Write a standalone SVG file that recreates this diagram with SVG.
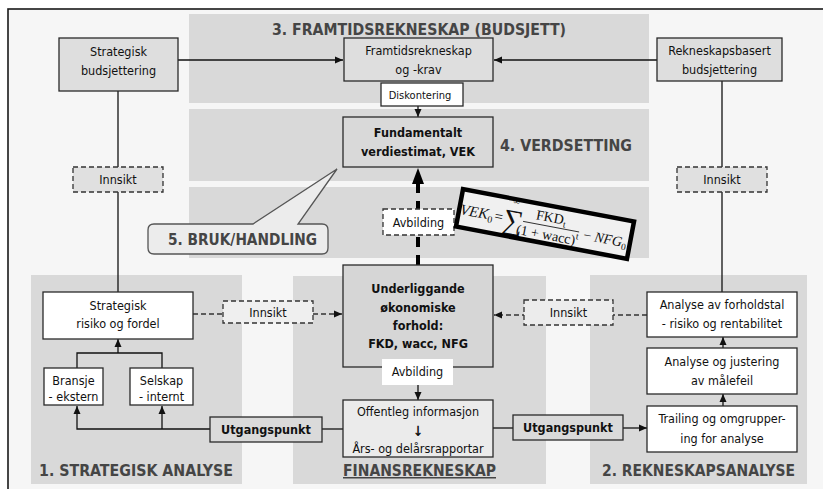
<svg xmlns="http://www.w3.org/2000/svg" width="823" height="489" viewBox="0 0 823 489">
<defs>
<style>
.bg{fill:#f6f6f6;stroke:#1a1a1a;stroke-width:1.6}
.panel{fill:#d9d9d9}
.box{stroke:#2a2a2a;stroke-width:1.3}
.w{fill:#ffffff}
.g{fill:#dedede}
.g2{fill:#d6d6d6}
.g3{fill:#ebebeb}
.dash{stroke:#333;stroke-width:1.3;stroke-dasharray:5 3}
.t{font-family:"DejaVu Sans Condensed","DejaVu Sans",sans-serif;font-stretch:condensed;font-size:12.5px;fill:#111;text-anchor:middle}
.tb{font-family:"DejaVu Sans Condensed","DejaVu Sans",sans-serif;font-stretch:condensed;font-size:12.5px;font-weight:bold;fill:#111;text-anchor:middle}
.ttl{font-family:"DejaVu Sans Condensed","DejaVu Sans",sans-serif;font-stretch:condensed;font-size:15px;font-weight:bold;fill:#454545}
.c{fill:none;stroke:#111;stroke-width:1.3}
.cd{fill:none;stroke:#333;stroke-width:1.3;stroke-dasharray:5 3}
.m{font-family:"Liberation Serif","Times New Roman",serif;fill:#111}
</style>
<marker id="ah" markerUnits="userSpaceOnUse" markerWidth="8" markerHeight="8" refX="8" refY="4" orient="auto">
<path d="M0,0.5 L8,4 L0,7.5 z" fill="#111"/>
</marker>
<clipPath id="fclip"><rect x="-87" y="-19" width="174" height="38"/></clipPath>
</defs>

<rect class="bg" x="8" y="9" width="830" height="500"/>

<g id="panels">
<rect class="panel" x="189" y="14" width="460" height="89"/>
<rect class="panel" x="189" y="109" width="460" height="72"/>
<rect class="panel" x="189" y="187" width="460" height="71"/>
<rect class="panel" x="31" y="275" width="211" height="209"/>
<rect class="panel" x="293" y="276" width="253" height="208"/>
<rect class="panel" x="590" y="275" width="217" height="209"/>
<text class="ttl" x="419" y="35" text-anchor="middle" textLength="294" lengthAdjust="spacingAndGlyphs">3. FRAMTIDSREKNESKAP (BUDSJETT)</text>
<text class="ttl" x="500" y="151" textLength="132" lengthAdjust="spacingAndGlyphs">4. VERDSETTING</text>
<text class="ttl" x="39" y="476" textLength="194" lengthAdjust="spacingAndGlyphs">1. STRATEGISK ANALYSE</text>
<text class="ttl" x="602" y="476" textLength="193" lengthAdjust="spacingAndGlyphs">2. REKNESKAPSANALYSE</text>
<text class="ttl" x="343" y="476" textLength="153" lengthAdjust="spacingAndGlyphs" text-decoration="underline">FINANSREKNESKAP</text>
</g>

<g id="connectors">
<line class="c" x1="178" y1="60" x2="343" y2="60" marker-end="url(#ah)"/>
<line class="c" x1="657" y1="60" x2="494" y2="60" marker-end="url(#ah)"/>
<line class="c" x1="118" y1="91" x2="118" y2="292"/>
<line class="c" x1="722" y1="81" x2="722" y2="292"/>
<line class="c" x1="418" y1="106" x2="418" y2="117" marker-end="url(#ah)"/>
<line x1="418" y1="183" x2="418" y2="265" stroke="#000" stroke-width="4" stroke-dasharray="10 8"/>
<polygon points="418,168 412,184 424,184" fill="#000"/>
<line class="cd" x1="193" y1="314" x2="342" y2="314" marker-end="url(#ah)"/>
<line class="cd" x1="647" y1="315" x2="494" y2="315" marker-end="url(#ah)"/>
<line class="c" x1="118" y1="353" x2="118" y2="339" marker-end="url(#ah)"/>
<polyline class="c" points="77,368 77,353 162,353 162,368"/>
<polyline class="c" points="210,429 77,429 77,406" marker-end="url(#ah)"/>
<line class="c" x1="162" y1="429" x2="162" y2="406" marker-end="url(#ah)"/>
<line class="c" x1="322" y1="429" x2="343" y2="429"/>
<line class="c" x1="418" y1="385" x2="418" y2="400" marker-end="url(#ah)"/>
<line class="c" x1="493" y1="428" x2="513" y2="428"/>
<line class="c" x1="623" y1="428" x2="647" y2="428" marker-end="url(#ah)"/>
<line class="c" x1="723" y1="348" x2="723" y2="337" marker-end="url(#ah)"/>
<line class="c" x1="723" y1="406" x2="723" y2="394" marker-end="url(#ah)"/>
</g>

<g id="strategisk-budsjettering">
<rect class="box g" x="59" y="38" width="119" height="53"/>
<text class="t" x="118.5" y="56">Strategisk</text>
<text class="t" x="118.5" y="75">budsjettering</text>
</g>

<g id="framtidsrekneskap">
<rect class="box g" x="344" y="38" width="149" height="43"/>
<text class="t" x="418.5" y="55">Framtidsrekneskap</text>
<text class="t" x="418.5" y="74">og -krav</text>
</g>

<g id="rekneskapsbasert-budsjettering">
<rect class="box g" x="657" y="38" width="125" height="43"/>
<text class="t" x="719.5" y="55">Rekneskapsbasert</text>
<text class="t" x="719.5" y="74">budsjettering</text>
</g>

<g id="diskontering">
<rect class="box w" x="381" y="83" width="82" height="23"/>
<text class="t" x="420" y="98.5" style="font-size:11px">Diskontering</text>
</g>

<g id="fundamentalt-verdiestimat">
<rect class="box" fill="#d9d9d9" x="343" y="117" width="150" height="50"/>
<text class="tb" x="418" y="137">Fundamentalt</text>
<text class="tb" x="418" y="156">verdiestimat, VEK</text>
</g>

<g id="innsikt-venstre">
<rect class="dash" fill="#e0e0e0" x="73" y="167" width="90" height="25"/>
<text class="t" x="118" y="184">Innsikt</text>
</g>

<g id="innsikt-hogre">
<rect class="dash" fill="#e0e0e0" x="677" y="167" width="90" height="25"/>
<text class="t" x="722" y="184">Innsikt</text>
</g>

<g id="bruk-handling">
<path d="M154,224 L253,224 L337,169 L298,224 L322,224 Q328,224 328,230 L328,248 Q328,254 322,254 L154,254 Q148,254 148,248 L148,230 Q148,224 154,224 Z" fill="#ececec" stroke="#555" stroke-width="1.3"/>
<text class="ttl" x="168" y="245" textLength="149" lengthAdjust="spacingAndGlyphs">5. BRUK/HANDLING</text>
</g>

<g id="avbilding-stipla">
<rect class="dash" fill="#ffffff" x="383" y="209" width="71" height="26"/>
<text class="t" x="418.5" y="226.5">Avbilding</text>
</g>

<g id="formel" transform="translate(545,224) rotate(10.7)">
<rect x="-87" y="-19" width="174" height="38" fill="#f0f0f0"/>
<g clip-path="url(#fclip)">
<text class="m" x="-86" y="6" font-size="15" font-style="italic">VEK<tspan font-size="10" dy="3" font-style="normal">0</tspan></text>
<text class="m" x="-51" y="6" font-size="15">=</text>
<text class="m" x="-32" y="12" font-size="29" text-anchor="middle">∑</text>
<text class="m" x="-32" y="-14" font-size="9" text-anchor="middle">∞</text>
<text class="m" x="-32" y="23" font-size="8" text-anchor="middle" font-style="italic">t=1</text>
<text class="m" x="5" y="-3" font-size="14" text-anchor="middle">FKD<tspan font-size="9.5" dy="3">t</tspan></text>
<line x1="-22" y1="1.5" x2="35" y2="1.5" stroke="#111" stroke-width="0.8"/>
<text class="m" x="4" y="15" font-size="14" text-anchor="middle">(1 + wacc)<tspan font-size="9.5" dy="-6">t</tspan></text>
<text class="m" x="40" y="8" font-size="14">−</text>
<text class="m" x="51" y="8" font-size="14" font-style="italic">NFG<tspan font-size="9.5" dy="3" font-style="normal">0</tspan></text>
</g>
<rect x="-87" y="-19" width="174" height="38" fill="none" stroke="#000" stroke-width="4.5"/>
</g>

<g id="underliggande">
<rect class="box g2" x="343" y="265" width="150" height="102"/>
<text class="tb" x="418" y="293">Underliggande</text>
<text class="tb" x="418" y="312">økonomiske</text>
<text class="tb" x="418" y="330">forhold:</text>
<text class="tb" x="418" y="348">FKD, wacc, NFG</text>
</g>

<g id="avbilding">
<rect x="382" y="359" width="71" height="26" fill="#ffffff"/>
<text class="t" x="417.5" y="376">Avbilding</text>
</g>

<g id="offentleg-informasjon">
<rect class="box g3" x="343" y="400" width="150" height="57"/>
<text class="t" x="418" y="416">Offentleg informasjon</text>
<text class="t" x="418" y="436" style="font-weight:bold;font-size:14px">↓</text>
<text class="t" x="418" y="453">Års- og delårsrapportar</text>
</g>

<g id="strategisk-risiko">
<rect class="box w" x="43" y="292" width="150" height="47"/>
<text class="t" x="118" y="310">Strategisk</text>
<text class="t" x="118" y="328">risiko og fordel</text>
</g>

<g id="innsikt-midt-venstre">
<rect class="dash" fill="#efefef" x="223" y="301" width="90" height="22"/>
<text class="t" x="268" y="317">Innsikt</text>
</g>

<g id="innsikt-midt-hogre">
<rect class="dash" fill="#ececec" x="524" y="300" width="89" height="25"/>
<text class="t" x="568.5" y="317">Innsikt</text>
</g>

<g id="bransje">
<rect class="box w" x="44" y="368" width="59" height="37"/>
<text class="t" x="73.5" y="385">Bransje</text>
<text class="t" x="73.5" y="401">- ekstern</text>
</g>

<g id="selskap">
<rect class="box w" x="130" y="368" width="63" height="37"/>
<text class="t" x="161.5" y="385">Selskap</text>
<text class="t" x="161.5" y="401">- internt</text>
</g>

<g id="utgangspunkt-venstre">
<rect class="box" fill="#dadada" x="210" y="417" width="112" height="25"/>
<text class="tb" x="266" y="434">Utgangspunkt</text>
</g>

<g id="utgangspunkt-hogre">
<rect class="box" fill="#dadada" x="513" y="415" width="110" height="25"/>
<text class="tb" x="568" y="432">Utgangspunkt</text>
</g>

<g id="analyse-forholdstal">
<rect class="box w" x="647" y="292" width="150" height="45"/>
<text class="t" x="722" y="309">Analyse av forholdstal</text>
<text class="t" x="722" y="328">- risiko og rentabilitet</text>
</g>

<g id="analyse-justering">
<rect class="box w" x="647" y="348" width="150" height="46"/>
<text class="t" x="722" y="366">Analyse og justering</text>
<text class="t" x="722" y="385">av målefeil</text>
</g>

<g id="trailing">
<rect class="box w" x="647" y="406" width="150" height="46"/>
<text class="t" x="722" y="423">Trailing og omgrupper-</text>
<text class="t" x="722" y="443">ing for analyse</text>
</g>
</svg>
